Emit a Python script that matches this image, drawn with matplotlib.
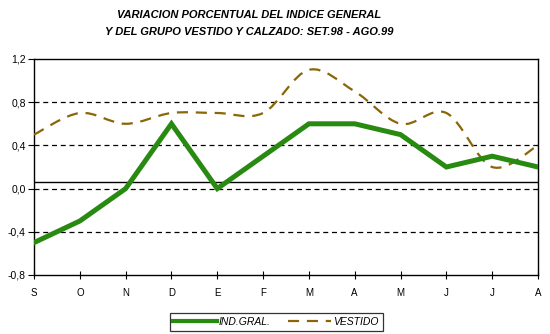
import matplotlib
matplotlib.use('Agg')
import matplotlib.pyplot as plt
from matplotlib.path import Path
from matplotlib.patches import PathPatch
from matplotlib.lines import Line2D
from matplotlib.ticker import FuncFormatter
import numpy as np

plt.rcParams['font.family'] = ['Liberation Sans', 'DejaVu Sans']

meses = ['S', 'O', 'N', 'D', 'E', 'F', 'M', 'A', 'M', 'J', 'J', 'A']
ind_gral = [-0.5, -0.3, 0.0, 0.6, 0.0, 0.3, 0.6, 0.6, 0.5, 0.2, 0.3, 0.2]
vestido = [0.5, 0.7, 0.6, 0.7, 0.7, 0.7, 1.1, 0.9, 0.6, 0.7, 0.2, 0.4]
yticks = [-0.8, -0.4, 0.0, 0.4, 0.8, 1.2]

verde = '#298a12'
marron = '#8b6508'


def curva_suave(xs, ys):
    # bezier tipo excel (linea suavizada)
    p = np.column_stack([xs, ys]).astype(float)
    n = len(p)
    verts = [p[0]]
    codes = [Path.MOVETO]
    for i in range(n - 1):
        p0 = p[i - 1] if i > 0 else p[i]
        p3 = p[i + 2] if i + 2 < n else p[i + 1]
        c1 = p[i] + (p[i + 1] - p0) / 6
        c2 = p[i + 1] - (p3 - p[i]) / 6
        verts += [c1, c2, p[i + 1]]
        codes += [Path.CURVE4] * 3
    return Path(verts, codes)


fig = plt.figure(figsize=(5.5, 3.34), dpi=100)
ax = fig.add_axes([34 / 550, 1 - 275 / 334, 504 / 550, 216 / 334])

x = np.arange(len(meses))
ax.plot(x, ind_gral, color=verde, lw=3.6, solid_joinstyle='miter', zorder=4)
ax.add_patch(PathPatch(curva_suave(x, vestido), fill=False, edgecolor=marron,
                       lw=1.6, linestyle=(0, (5, 3.5)), zorder=3))

for v in [0.8, 0.4, 0.0, -0.4]:
    ax.axhline(v, color='black', lw=0.9, linestyle=(0, (4, 3)), zorder=1)
ax.axhline(0.065, color='black', lw=1.0, zorder=2)

ax.set_xlim(0, len(meses) - 1)
ax.set_ylim(-0.8, 1.2)
ax.set_xticks(x)
ax.set_xticklabels(meses)
ax.set_yticks(yticks)
ax.yaxis.set_major_formatter(FuncFormatter(lambda v, p: ('%.1f' % v).replace('.', ',')))
ax.tick_params(axis='x', direction='inout', length=6, width=0.8, labelsize=7, pad=6)
ax.tick_params(axis='y', direction='out', length=4, width=0.8, labelsize=7.5, pad=2)
for s in ax.spines.values():
    s.set_linewidth(1.0)

fig.text(0.453, 1 - 15 / 334, 'VARIACION PORCENTUAL DEL INDICE GENERAL',
         ha='center', va='center', fontsize=8, fontweight='bold', style='italic')
fig.text(0.453, 1 - 32 / 334, 'Y DEL GRUPO VESTIDO Y CALZADO: SET.98 - AGO.99',
         ha='center', va='center', fontsize=8, fontweight='bold', style='italic')

handles = [Line2D([], [], color=verde, lw=3),
           Line2D([], [], color=marron, lw=1.6, linestyle=(0, (5, 3.5)))]
leg = fig.legend(handles, ['IND.GRAL.', 'VESTIDO'], ncol=2, loc='center',
                 bbox_to_anchor=(276 / 550, 1 - 322 / 334), frameon=True,
                 fancybox=False, edgecolor='black', handlelength=4.2,
                 columnspacing=1.6, handletextpad=0.2, borderpad=0.35,
                 borderaxespad=0, prop={'size': 7.5, 'style': 'italic'})
leg.get_frame().set_linewidth(0.9)

fig.savefig('out.png', dpi=100)
